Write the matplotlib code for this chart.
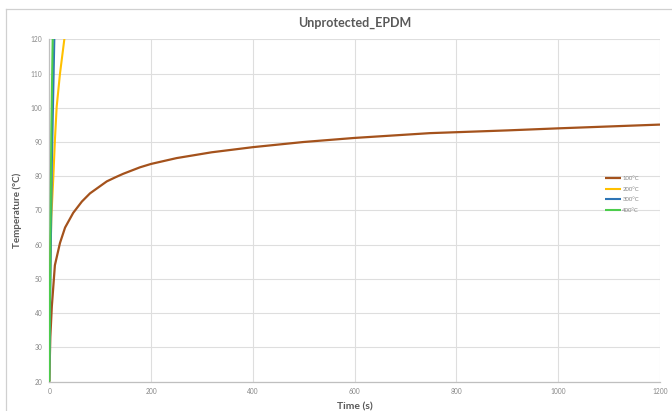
import matplotlib

matplotlib.use("Agg")
import matplotlib.pyplot as plt
from matplotlib.lines import Line2D

# readings: time (s) vs temperature (°C)
T100_TIME = [0, 2, 5, 11, 21, 31, 47, 64, 80, 113, 130, 145, 178, 200, 250, 319, 400, 499, 600, 748, 900, 1000, 1200]
T100_TEMP = [20, 33, 42, 54, 60.5, 65, 69.3, 72.6, 75, 78.5, 79.7, 80.7, 82.6, 83.6, 85.3, 87.0, 88.5, 90.0, 91.2,
             92.6, 93.4, 94.0, 95.1]

T200_TIME = [0, 2, 4, 8, 11, 14.5, 21, 29.5, 40]
T200_TEMP = [20, 55, 68, 80, 90.5, 100.3, 110, 120, 131]

T300_TIME = [0, 2, 5, 10, 15]
T300_TEMP = [20, 48, 84, 121, 150]

T400_TIME = [0, 2, 4, 6.6, 10]
T400_TEMP = [20, 58, 93, 120, 158]

SERIES = [
    ("100°C", T100_TIME, T100_TEMP, "#a4521c", 1.6),
    ("200°C", T200_TIME, T200_TEMP, "#ffc000", 1.5),
    ("300°C", T300_TIME, T300_TEMP, "#2e75b6", 1.5),
    ("400°C", T400_TIME, T400_TEMP, "#4ccd4c", 1.5),
]

X_TICKS = [0, 200, 400, 600, 800, 1000, 1200]
Y_TICKS = [20, 30, 40, 50, 60, 70, 80, 90, 100, 110, 120]

FONT = ["Lato", "DejaVu Sans"]
GRID = "#dedede"
TEXT = "#595959"
TICK = "#888888"

W, H = 672, 411
fig = plt.figure(figsize=(W / 100, H / 100), dpi=100)
fig.patch.set_facecolor("white")

# chart area frame (only top and left edges are inside the picture)
fig.add_artist(Line2D([6 / W, 1], [1 - 9 / H, 1 - 9 / H], transform=fig.transFigure, color="#d0d0d0", lw=0.9))
fig.add_artist(Line2D([6 / W, 6 / W], [0, 1 - 9 / H], transform=fig.transFigure, color="#d0d0d0", lw=0.9))

x0, x1, y0, y1 = 49.3, 660.0, 39.4, 381.5
ax = fig.add_axes([x0 / W, 1 - y1 / H, (x1 - x0) / W, (y1 - y0) / H])

for label, t, temp, color, lw in SERIES:
    ax.plot(t, temp, color=color, lw=lw, label=label, solid_capstyle="butt", zorder=3)

ax.set_xlim(0, 1200)
ax.set_ylim(20, 120)
ax.set_xticks(X_TICKS)
ax.set_yticks(Y_TICKS)
ax.grid(True, color=GRID, lw=0.8)
ax.set_axisbelow(True)
for side in ["top", "right"]:
    ax.spines[side].set_visible(False)
for side in ["left", "bottom"]:
    ax.spines[side].set_color("#bfbfbf")
    ax.spines[side].set_linewidth(0.9)
ax.tick_params(length=0, labelsize=4.8, labelcolor=TICK, pad=5)
for lab in ax.get_xticklabels() + ax.get_yticklabels():
    lab.set_family(FONT)

ax.set_xlabel("Time (s)", fontsize=7.5, color=TEXT, family=FONT, weight="bold", labelpad=5)
ax.set_ylabel("Temperature (°C)", fontsize=7, color=TEXT, family=FONT, weight="bold", labelpad=6)

fig.text((x0 + x1) / 2 / W, 1 - 23 / H, "Unprotected_EPDM", fontsize=9, color=TEXT,
         family=FONT, weight="bold", ha="center", va="center")

leg = ax.legend(loc="upper left", bbox_to_anchor=((605 - x0) / (x1 - x0), 1 - (176 - y0) / (y1 - y0)),
                frameon=False, prop={"family": FONT[0], "size": 4.3}, handlelength=2.6,
                handletextpad=0.3, labelspacing=0.9, borderaxespad=0, borderpad=0)
for txt in leg.get_texts():
    txt.set_color(TICK)

fig.savefig("out.png", dpi=100, facecolor="white")
